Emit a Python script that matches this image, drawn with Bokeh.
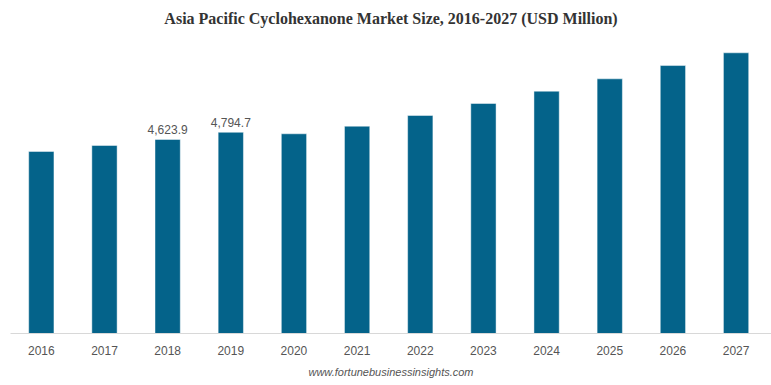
from bokeh.plotting import figure
from bokeh.models import Range1d, ColumnDataSource, LabelSet, FixedTicker, Title
from bokeh.core.properties import value
from bokeh.embed import file_html
from bokeh.resources import INLINE

years = ["2016", "2017", "2018", "2019", "2020", "2021", "2022", "2023", "2024", "2025", "2026", "2027"]
values = [4338, 4480, 4623.9, 4794.7, 4759, 4940, 5195, 5481, 5774, 6069, 6386, 6689]
shown_labels = ["", "", "4,623.9", "4,794.7", "", "", "", "", "", "", "", ""]
title_text = "Asia Pacific Cyclohexanone Market Size, 2016-2027 (USD Million)"
source_text = "www.fortunebusinessinsights.com"

xs = list(range(len(years)))
src = ColumnDataSource(dict(x=xs, top=values, lab=shown_labels))

p = figure(width=771, height=385, output_backend="svg", toolbar_location=None,
           x_range=Range1d(-0.488, 11.561), y_range=Range1d(0, 6792),
           min_border_left=10, min_border_right=0, min_border_top=48, min_border_bottom=52)
p.title.text = ""
p.title.standoff = 0

p.vbar(x="x", top="top", width=0.4, source=src, fill_color="#04638a",
       line_color="white", line_alpha=0.45, line_width=1)

p.add_layout(LabelSet(x="x", y="top", text="lab", source=src, text_align="center",
                      text_baseline="bottom", y_offset=5, text_font_size=value("12px"),
                      text_font=value("Liberation Sans"), text_color=value("#555555")))

spacer = Title(text=" ", text_font_size="2px", standoff=18)
p.add_layout(spacer, "above")
heading = Title(text=title_text, align="center", text_font="Liberation Serif",
                text_font_size="16px", text_font_style="bold", text_color="#333333", standoff=0)
p.add_layout(heading, "above")

p.yaxis.visible = False
p.xgrid.visible = False
p.ygrid.visible = False
p.outline_line_color = None

xa = p.xaxis[0]
xa.ticker = FixedTicker(ticks=xs)
xa.major_label_overrides = {i: y for i, y in zip(xs, years)}
xa.axis_line_color = "#d8d8d8"
xa.major_tick_line_color = None
xa.minor_tick_line_color = None
xa.major_label_standoff = 6
xa.major_label_text_font = "Liberation Sans"
xa.major_label_text_font_size = "12px"
xa.major_label_text_color = "#555555"

foot = Title(text=source_text, align="center", text_font="Liberation Sans",
             text_font_size="11px", text_font_style="italic", text_color="#555555", standoff=13)
p.add_layout(foot, "below")

open("out.html", "w").write(file_html(p, INLINE))
